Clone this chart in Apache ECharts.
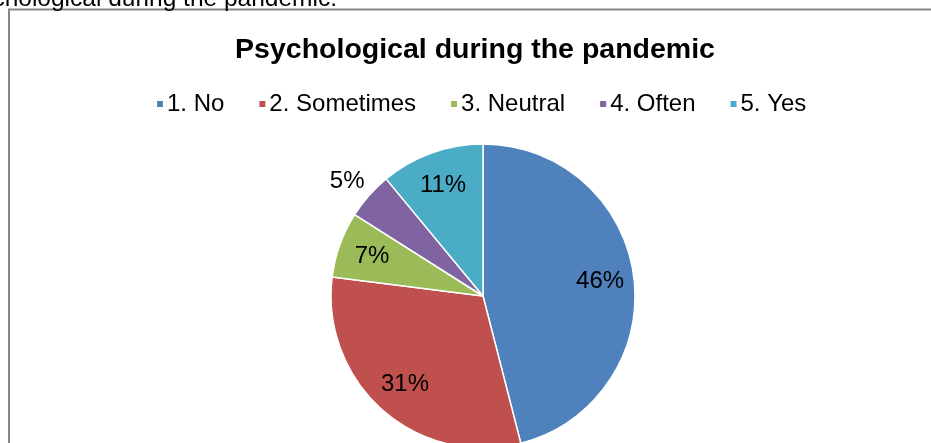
<!DOCTYPE html>
<html>
<head>
<meta charset="utf-8">
<script src="https://cdn.jsdelivr.net/npm/echarts@6/dist/echarts.min.js"></script>
<style>
  html, body { margin: 0; padding: 0; background: #fff; }
  #chart { width: 931px; height: 443px; }
</style>
</head>
<body>
<div id="chart"></div>
<script>
// Survey answers: share of respondents per answer (percent)
const chartTitle = 'Psychological during the pandemic';
const captionText = 'Psychological during the pandemic.';
const categories = ['1. No', '2. Sometimes', '3. Neutral', '4. Often', '5. Yes'];
const shares = [46, 31, 7, 5, 11];
const sliceColors = ['#4F81BD', '#C0504D', '#9BBB59', '#8064A2', '#4BACC6'];
// answers whose percentage sits outside the pie
const outsideLabelNames = ['4. Often'];

const FONT = '"Liberation Sans", Arial, sans-serif';
const CENTER = [483, 296];
const R = 152;

const chart = echarts.init(document.getElementById('chart'), null, { renderer: 'canvas' });

const sliceData = categories.map((name, i) => ({
  name,
  value: shares[i],
  itemStyle: { color: sliceColors[i] }
}));

const labelData = categories.map((name, i) => {
  const item = { name, value: shares[i] };
  if (outsideLabelNames.includes(name)) {
    item.label = { position: 'outside', offset: [17, 0] };
    item.labelLine = { show: false, length: 22, length2: 0 };
  }
  return item;
});

chart.setOption({
  backgroundColor: '#ffffff',
  animation: false,
  title: {
    text: chartTitle,
    left: 470,
    top: 31,
    textAlign: 'center',
    textStyle: { fontFamily: FONT, fontSize: 28.5, fontWeight: 'bold', color: '#000' }
  },
  legend: {
    data: categories,
    left: 150,
    top: 87,
    icon: 'rect',
    itemWidth: 8,
    itemHeight: 8,
    itemGap: 33,
    selectedMode: false,
    textStyle: { fontFamily: FONT, fontSize: 24, color: '#000', padding: [0, 0, 0, -2] }
  },
  graphic: [
    {
      type: 'rect',
      shape: { x: 9, y: 9.5, width: 960, height: 460 },
      style: { fill: 'none', stroke: '#878787', lineWidth: 2 },
      silent: true
    },
    {
      type: 'text',
      style: {
        text: captionText,
        x: 337,
        y: 12,
        align: 'right',
        verticalAlign: 'bottom',
        font: '24.5px ' + FONT,
        fill: '#000'
      },
      silent: true
    }
  ],
  series: [
    {
      // the slices
      type: 'pie',
      center: CENTER,
      radius: R,
      startAngle: 90,
      clockwise: true,
      data: sliceData,
      label: { show: false },
      labelLine: { show: false },
      itemStyle: { borderColor: '#ffffff', borderWidth: 1.5 },
      emphasis: { disabled: true },
      silent: true
    },
    {
      // transparent ring that carries the percentage labels
      type: 'pie',
      center: CENTER,
      radius: [78, R],
      startAngle: 90,
      clockwise: true,
      avoidLabelOverlap: false,
      data: labelData,
      itemStyle: { color: 'rgba(0,0,0,0)', borderWidth: 0 },
      label: {
        show: true,
        position: 'inside',
        formatter: '{c}%',
        fontFamily: FONT,
        fontSize: 24,
        color: '#000'
      },
      labelLine: { show: false },
      emphasis: { disabled: true },
      legendHoverLink: false,
      silent: true
    }
  ]
});
</script>
</body>
</html>
